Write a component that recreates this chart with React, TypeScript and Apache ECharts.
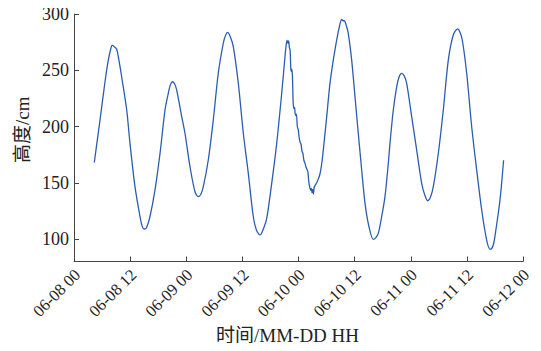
import React, { useEffect, useRef } from "react";
import * as echarts from "echarts";

// hours since 06-08 00
const hours = [
  4.34, 5.56, 6.63, 7.33, 7.8, 8.19, 8.6, 9.13, 9.6, 10.2, 11.27, 11.97, 13.04, 14.11, 14.6, 15.03, 15.5, 16.25,
  17.32, 18.39, 19.46, 20.16, 20.6, 21.02, 21.5, 21.96, 23.03, 23.73, 24.8, 25.87, 26.58, 27.1, 27.65, 28.71,
  29.78, 30.85, 31.92, 32.4, 32.86, 33.4, 34.06, 35.13, 36.2, 37.27, 38.33, 39.0, 39.77, 40.4, 41.2, 42.27,
  43.34, 44.41, 45.11, 45.35, 45.55, 45.75, 45.9, 46.05, 46.2, 46.35, 46.45, 46.55, 46.7, 46.85, 47.0, 47.15,
  47.35, 47.55, 47.75, 47.95, 48.15, 48.35, 48.55, 48.75, 48.95, 49.15, 49.4, 49.6, 49.8, 50.0, 50.2, 50.4,
  50.6, 50.75, 50.9, 51.05, 51.2, 51.35, 51.6, 51.9, 52.2, 52.6, 53.0, 53.3, 54.03, 54.73, 55.44, 56.17, 56.66,
  57.23, 57.5, 57.79, 58.2, 58.64, 59.37, 60.08, 60.78, 61.51, 62.22, 63.07, 63.99, 64.5, 65.06, 65.79, 66.49,
  67.2, 67.56, 68.27, 69.0, 69.5, 70.06, 70.6, 71.13, 72.2, 73.27, 74.34, 75.0, 75.62, 76.2, 76.82, 77.89,
  78.96, 80.03, 81.09, 82.03, 82.5, 83.02, 83.96, 85.03, 86.1, 87.17, 88.23, 88.94, 89.3, 89.73, 90.2, 91.08,
  91.85,
];

// height in cm
const heights = [
  168, 205.8, 239.8, 259, 268, 272.4, 271, 268.6, 259, 244, 214.7, 185, 146.5, 120, 111, 108.9, 110, 120,
  143.6, 176, 214.7, 229.5, 237, 239.8, 238, 232.4, 208.7, 194, 164.3, 142, 137.6, 139.5, 146.5, 170.2,
  205.8, 247.3, 274, 281, 283.7, 280, 271, 238.4, 194, 158.4, 120, 108, 103.6, 108, 118.4, 149.5,
  185, 229.5, 262, 272, 276.5, 274, 276, 270, 268, 252, 249, 251, 245, 222, 216, 217,
  210, 211, 200, 197, 190, 186, 184, 178, 176, 170, 167, 164, 162, 160, 151, 146,
  143, 145, 141, 144, 140, 146, 148, 150, 153, 158, 168, 179, 208.7, 238.4, 259, 276.9, 287.3,
  295.3, 294, 294, 290, 282.8, 259, 226.5, 194, 161.3, 131.7, 110.9, 99.7, 101, 105, 120, 137.6,
  167.3, 185, 214.7, 235.4, 244, 247.3, 245, 238.4, 208.7, 179, 149.5, 139, 134, 137, 146.5, 176,
  214.7, 259, 281.3, 286.7, 284, 276.9, 247.3, 199.8, 161.3, 125.8, 99.1, 91, 91.5, 96, 108, 134.7,
  170,
];

const xTickLabels = [
  "06-08 00", "06-08 12", "06-09 00", "06-09 12", "06-10 00",
  "06-10 12", "06-11 00", "06-11 12", "06-12 00",
];

const yTicks = [100, 150, 200, 250, 300];

const FONT = '"Liberation Serif", "Noto Sans CJK SC", serif';

export default function App() {
  const ref = useRef<HTMLDivElement>(null);
  useEffect(() => {
    if (!ref.current) return;
    const chart = echarts.init(ref.current, null, { renderer: "svg" });
    const data = hours.map((h, i) => [h, heights[i]]);
    chart.setOption({
      animation: false,
      backgroundColor: "#ffffff",
      grid: {
        left: 74,
        right: 18,
        top: 14,
        bottom: 89.5,
        containLabel: false,
        outerBoundsMode: "none",
      },
      xAxis: {
        type: "value",
        min: 0,
        max: 96,
        interval: 12,
        name: "时间/MM-DD HH",
        nameLocation: "middle",
        nameGap: 64,
        nameMoveOverlap: false,
        nameTextStyle: { fontFamily: FONT, fontSize: 19, color: "#222", padding: [0, 22, 0, 0] },
        axisLine: { show: true, lineStyle: { color: "#444", width: 1 } },
        axisTick: { show: true, inside: true, length: 5, lineStyle: { color: "#444" } },
        axisLabel: {
          rotate: 45,
          margin: 7,
          verticalAlign: "top",
          lineHeight: 10,
          fontFamily: FONT,
          fontSize: 16.5,
          color: "#222",
          hideOverlap: false,
          formatter: (v: number) => xTickLabels[Math.round(v / 12)] ?? "",
        },
        splitLine: { show: false },
      },
      yAxis: {
        type: "value",
        min: 80,
        max: 300,
        name: "高度/cm",
        nameLocation: "middle",
        nameGap: 42,
        nameMoveOverlap: false,
        nameTextStyle: { fontFamily: FONT, fontSize: 19, color: "#222", padding: [0, 0, 0, 16] },
        axisLine: { show: true, lineStyle: { color: "#444", width: 1 } },
        axisTick: {
          show: true,
          inside: true,
          length: 5,
          customValues: yTicks,
          lineStyle: { color: "#444" },
        },
        axisLabel: {
          customValues: yTicks,
          margin: 5,
          fontFamily: FONT,
          fontSize: 18,
          color: "#222",
        },
        splitLine: { show: false },
      },
      series: [
        {
          type: "line",
          data,
          showSymbol: false,
          smooth: 0.3,
          lineStyle: { color: "#2a5db0", width: 1.3 },
        },
      ],
    });
    return () => chart.dispose();
  }, []);
  return <div ref={ref} style={{ width: 541, height: 351, margin: -8 }} />;
}
